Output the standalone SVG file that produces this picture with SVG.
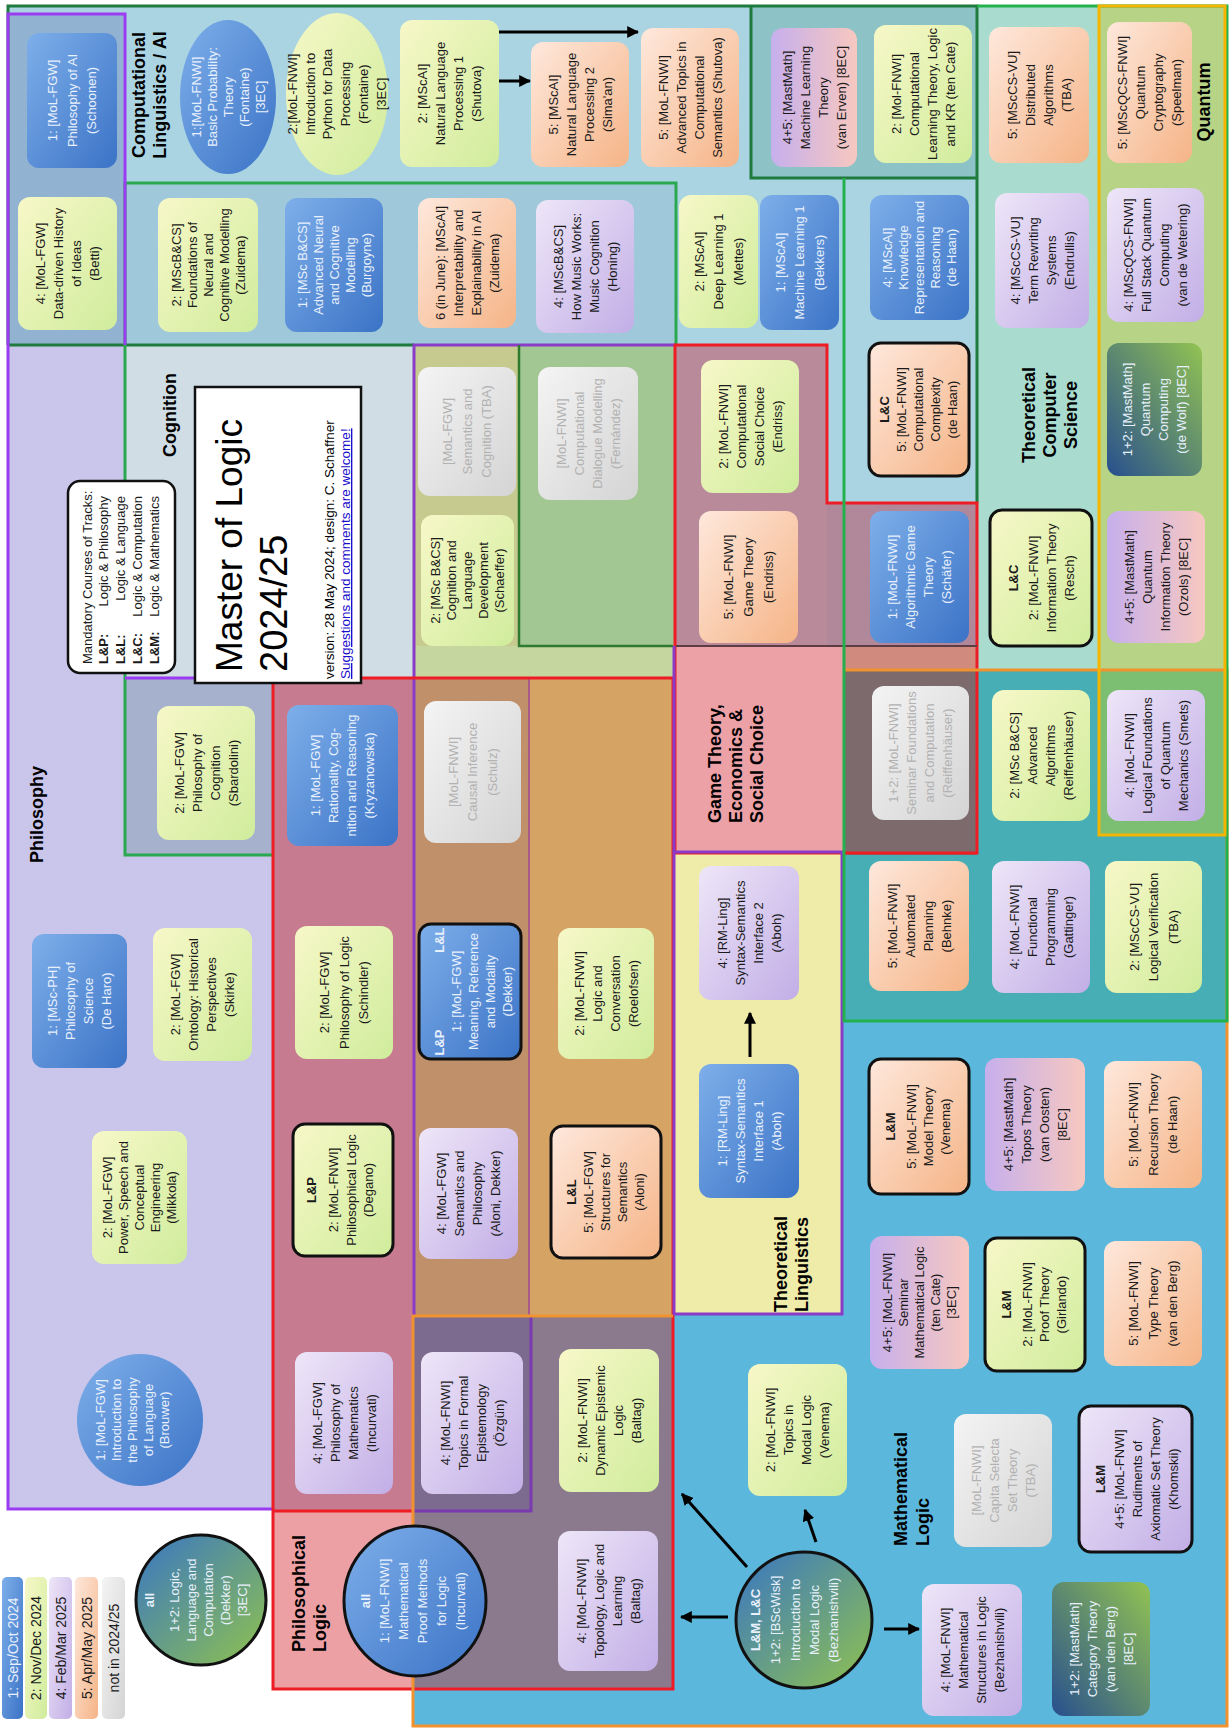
<svg xmlns="http://www.w3.org/2000/svg" width="1232" height="1730" viewBox="0 0 1232 1730">
<defs>
<linearGradient id="g1" x1="0" y1="0" x2="1" y2="1"><stop offset="0" stop-color="#7eafea"/><stop offset="1" stop-color="#3b73c6"/></linearGradient>
<linearGradient id="g2" x1="0" y1="0" x2="1" y2="1"><stop offset="0" stop-color="#f7f8c8"/><stop offset="1" stop-color="#d0ec9c"/></linearGradient>
<linearGradient id="g4" x1="0" y1="0" x2="1" y2="1"><stop offset="0" stop-color="#eee6f8"/><stop offset="1" stop-color="#c2aee6"/></linearGradient>
<linearGradient id="g5" x1="0" y1="0" x2="1" y2="1"><stop offset="0" stop-color="#fee8dc"/><stop offset="1" stop-color="#f5b487"/></linearGradient>
<linearGradient id="g0" x1="0" y1="0" x2="1" y2="1"><stop offset="0" stop-color="#f4f4f4"/><stop offset="1" stop-color="#d4d4d4"/></linearGradient>
<linearGradient id="g45" x1="0" y1="0" x2="1" y2="0"><stop offset="0" stop-color="#c6afec"/><stop offset="1" stop-color="#f7c8c0"/></linearGradient>
<linearGradient id="g12" x1="0" y1="1" x2="1" y2="0"><stop offset="0" stop-color="#284f8e"/><stop offset="1" stop-color="#92c352"/></linearGradient>
<linearGradient id="g12c" x1="0" y1="0" x2="1" y2="1"><stop offset="0" stop-color="#3876c4"/><stop offset="1" stop-color="#90c24e"/></linearGradient>
<marker id="ah" viewBox="0 0 10 10" refX="9" refY="5" markerWidth="4" markerHeight="4" orient="auto"><path d="M0,0 L10,5 L0,10 z" fill="#000"/></marker>
</defs>
<style>
.t{font-family:"Liberation Sans",Arial,sans-serif;font-size:13px;text-anchor:middle;fill:#1a1a1a}
.w{fill:#e8f0fc}
.gy{fill:#b2b2b2}
.b{font-weight:bold}
.lb{font-family:"Liberation Sans",Arial,sans-serif;font-size:18px;font-weight:bold;fill:#000}
.n1{fill:url(#g1)}.n2{fill:url(#g2)}.n4{fill:url(#g4)}.n5{fill:url(#g5)}.n0{fill:url(#g0)}.n45{fill:url(#g45)}.n12{fill:url(#g12)}.nc{fill:url(#g12c)}
.m{stroke:#111;stroke-width:3}
.ar{fill:none;stroke:#000;stroke-width:3;marker-end:url(#ah)}
</style>
<rect width="1232" height="1730" fill="#fff"/>
<g id="regions">
<rect x="8" y="6" width="969" height="339" fill="#aad4e2"/>
<rect x="827" y="345" width="150" height="158" fill="#aad4e2"/>
<rect x="8" y="14" width="117" height="331" fill="#92b2d2"/>
<rect x="125" y="183" width="551" height="162" fill="#9fc8da"/>
<rect x="751" y="6" width="226" height="172" fill="#8dc3c6"/>
<rect x="977" y="6" width="122" height="664" fill="#a9dccf"/>
<rect x="1099" y="6" width="126" height="664" fill="#b6d386"/>
<rect x="8" y="345" width="117" height="1164" fill="#c9c5eb"/>
<rect x="125" y="855" width="148" height="654" fill="#c9c5eb"/>
<rect x="125" y="345" width="289" height="333" fill="#d0dde5"/>
<rect x="125" y="678" width="148" height="177" fill="#a5b1cd"/>
<rect x="414" y="345" width="105" height="301" fill="#c7ca8f"/>
<rect x="519" y="345" width="155" height="301" fill="#a2c792"/>
<rect x="414" y="646" width="260" height="32" fill="#c5d79e"/>
<rect x="273" y="678" width="141" height="833" fill="#c77b91"/>
<rect x="414" y="678" width="115" height="638" fill="#c0906a"/>
<rect x="529" y="678" width="145" height="638" fill="#d5a464"/>
<rect x="273" y="1511" width="140" height="178" fill="#eca0a4"/>
<rect x="413" y="1316" width="260" height="373" fill="#8b798d"/>
<rect x="413" y="1316" width="118" height="195" fill="#7d6b8f"/>
<rect x="676" y="345" width="151" height="301" fill="#b88a9a"/>
<rect x="827" y="503" width="150" height="143" fill="#b1879a"/>
<rect x="676" y="646" width="168" height="209" fill="#eca1a7"/>
<rect x="844" y="646" width="133" height="24" fill="#d08a7e"/>
<rect x="844" y="670" width="133" height="185" fill="#7c6a6d"/>
<rect x="977" y="670" width="250" height="351" fill="#48aeb5"/>
<rect x="844" y="855" width="133" height="166" fill="#48aeb5"/>
<rect x="1099" y="670" width="126" height="165" fill="#7cbf73"/>
<rect x="674" y="852" width="168" height="462" fill="#efeba9"/>
<rect x="842" y="1021" width="385" height="705" fill="#5bb7dc"/>
<rect x="674" y="1314" width="168" height="412" fill="#5bb7dc"/>
<rect x="413" y="1689" width="261" height="37" fill="#5bb7dc"/>
</g>
<g id="borders" fill="none" stroke-width="3">
<polyline points="8,345 8,6 977,6 977,503" stroke="#1f7a3e"/>
<line x1="8" y1="345" x2="414" y2="345" stroke="#1f7a3e"/>
<polyline points="751,6 751,178 977,178" stroke="#1f7a3e"/>
<polyline points="676,345 676,183 125,183 125,855 273,855" stroke="#2aa84f"/>
<polyline points="125,345 125,14 8,14 8,1509 273,1509" stroke="#9b3cf2"/>
<line x1="125" y1="678" x2="273" y2="678" stroke="#9b3cf2"/>
<polyline points="414,1316 414,345 676,345" stroke="#8a3cc8"/>
<polyline points="519,345 519,646 673,646" stroke="#2e7a2e" stroke-width="2.5"/>
<line x1="529" y1="678" x2="529" y2="1316" stroke="#a85a8a" stroke-width="2"/>
<rect x="273" y="678" width="400" height="1011" stroke="#ee1c24"/>
<line x1="273" y1="1511" x2="413" y2="1511" stroke="#ee1c24"/>
<polyline points="675,853 675,345 827,345 827,503 977,503 977,853 675,853" stroke="#ee1c24"/>
<line x1="676" y1="646" x2="977" y2="646" stroke="#5e3c44" stroke-width="2"/>
<line x1="674" y1="646" x2="674" y2="852" stroke="#8a3cc8"/>
<rect x="674" y="852" width="168" height="462" stroke="#8a3cc8"/>
<polyline points="413,1511 531,1511 531,1316" stroke="#7a3ab0"/>
<polyline points="844,670 1227,670 1227,1726 413,1726 413,1316 673,1316" stroke="#f0922e"/>
<polyline points="977,6 1227,6 1227,1021 844,1021 844,178" stroke="#22b14c"/>
<rect x="1099" y="6" width="126" height="829" stroke="#f4b400"/>
</g>
<g id="labels">
<text class="lb" transform="translate(0,95) rotate(-90)" text-anchor="middle"><tspan x="0" y="145">Computational</tspan><tspan x="0" y="166">Linguistics / AI</tspan></text>
<text class="lb" transform="translate(176,415) rotate(-90)" text-anchor="middle">Cognition</text>
<text class="lb" transform="translate(43,863) rotate(-90)">Philosophy</text>
<text class="lb" transform="translate(721,823) rotate(-90)"><tspan x="0" y="0">Game Theory,</tspan><tspan x="0" y="21">Economics &amp;</tspan><tspan x="0" y="42">Social Choice</tspan></text>
<text class="lb" transform="translate(787,1312) rotate(-90)"><tspan x="0" y="0">Theoretical</tspan><tspan x="0" y="21">Linguistics</tspan></text>
<text class="lb" transform="translate(1035,415) rotate(-90)" text-anchor="middle"><tspan x="0" y="0">Theoretical</tspan><tspan x="0" y="21">Computer</tspan><tspan x="0" y="42">Science</tspan></text>
<text class="lb" transform="translate(1210,102) rotate(-90)" text-anchor="middle">Quantum</text>
<text class="lb" transform="translate(305,1652) rotate(-90)"><tspan x="0" y="0">Philosophical</tspan><tspan x="0" y="21">Logic</tspan></text>
<text class="lb" transform="translate(907,1546) rotate(-90)"><tspan x="0" y="0">Mathematical</tspan><tspan x="0" y="22">Logic</tspan></text>
</g>
<g id="tracks-legend">
<rect x="68" y="481" width="107" height="192" rx="12" fill="#fff" stroke="#111" stroke-width="2.5"/>
<text class="t" style="text-anchor:start" transform="translate(92,664) rotate(-90)">Mandatory  Courses of Tracks:</text>
<text class="t b" style="text-anchor:start" transform="translate(108,664) rotate(-90)">L&amp;P:</text>
<text class="t" style="text-anchor:end" transform="translate(108,496) rotate(-90)">Logic &amp; Philosophy</text>
<text class="t b" style="text-anchor:start" transform="translate(125,664) rotate(-90)">L&amp;L:</text>
<text class="t" style="text-anchor:end" transform="translate(125,496) rotate(-90)">Logic &amp; Language</text>
<text class="t b" style="text-anchor:start" transform="translate(142,664) rotate(-90)">L&amp;C:</text>
<text class="t" style="text-anchor:end" transform="translate(142,496) rotate(-90)">Logic &amp; Computation</text>
<text class="t b" style="text-anchor:start" transform="translate(159,664) rotate(-90)">L&amp;M:</text>
<text class="t" style="text-anchor:end" transform="translate(159,496) rotate(-90)">Logic &amp; Mathematics</text>
</g>
<g id="title">
<rect x="195" y="387" width="166" height="296" fill="#fff" stroke="#111" stroke-width="2.5"/>
<text transform="translate(242,672) rotate(-90)" style="font-family:'Liberation Sans',Arial,sans-serif;font-size:37px;fill:#000">Master of Logic</text>
<text transform="translate(287,672) rotate(-90)" style="font-family:'Liberation Sans',Arial,sans-serif;font-size:38px;fill:#000">2024/25</text>
<text transform="translate(334,679) rotate(-90)" style="font-family:'Liberation Sans',Arial,sans-serif;font-size:13.5px;fill:#000">version: 28 May 2024; design: C. Schaffner</text>
<text transform="translate(350,679) rotate(-90)" style="font-family:'Liberation Sans',Arial,sans-serif;font-size:13.5px;fill:#1a0dcc;text-decoration:underline">Suggestions and comments are welcome!</text>
</g>
<g id="legend">
<g id="legend-1"><rect class="n1" x="2" y="1577" width="21" height="142" rx="5"/><text class="t w" style="font-size:14px" transform="translate(12.5,1648) rotate(-90)" y="5">1: Sep/Oct 2024</text></g>
<g id="legend-2"><rect class="n2" x="25" y="1577" width="22" height="142" rx="5"/><text class="t" style="font-size:14px" transform="translate(36,1648) rotate(-90)" y="5">2: Nov/Dec 2024</text></g>
<g id="legend-4"><rect class="n4" x="49" y="1577" width="23" height="142" rx="5"/><text class="t" style="font-size:14px" transform="translate(60.5,1648) rotate(-90)" y="5">4: Feb/Mar 2025</text></g>
<g id="legend-5"><rect class="n5" x="75" y="1577" width="23" height="142" rx="5"/><text class="t" style="font-size:14px" transform="translate(86.5,1648) rotate(-90)" y="5">5: Apr/May 2025</text></g>
<g id="legend-0"><rect class="n0" x="102" y="1577" width="23" height="142" rx="5"/><text class="t" style="font-size:14px" transform="translate(113.5,1648) rotate(-90)" y="5">not in 2024/25</text></g>
</g>
<g id="nodes">
<g id="n-phil-ai"><rect class="n1" x="27" y="33" width="90" height="135" rx="12"/><text class="t w" transform="translate(72,100.5) rotate(-90)"><tspan x="0" y="-15">1: [MoL-FGW]</tspan><tspan x="0" y="4.5">Philosophy of AI</tspan><tspan x="0" y="24">(Schoonen)</tspan></text></g>
<g id="n-history-ideas"><rect class="n2" x="18" y="197" width="99" height="133" rx="12"/><text class="t" transform="translate(67.5,263.5) rotate(-90)"><tspan x="0" y="-22.5">4: [MoL-FGW]</tspan><tspan x="0" y="-4.5">Data-driven History</tspan><tspan x="0" y="13.5">of Ideas</tspan><tspan x="0" y="31.5">(Betti)</tspan></text></g>
<g id="n-phil-science"><rect class="n1" x="32" y="934" width="95" height="134" rx="12"/><text class="t w" transform="translate(79.5,1001) rotate(-90)"><tspan x="0" y="-22.5">1: [MSc-PH]</tspan><tspan x="0" y="-4.5">Philosophy of</tspan><tspan x="0" y="13.5">Science</tspan><tspan x="0" y="31.5">(De Haro)</tspan></text></g>
<g id="n-power-speech"><rect class="n2" x="92" y="1131" width="95" height="133" rx="12"/><text class="t" transform="translate(139.5,1197.5) rotate(-90)"><tspan x="0" y="-27.5">2: [MoL-FGW]</tspan><tspan x="0" y="-11.5">Power, Speech and</tspan><tspan x="0" y="4.5">Conceptual</tspan><tspan x="0" y="20.5">Engineering</tspan><tspan x="0" y="36.5">(Mikkola)</tspan></text></g>
<g id="n-intro-phil-lang"><ellipse class="n1" cx="140" cy="1420" rx="63" ry="66"/><text class="t w" transform="translate(140,1420) rotate(-90)"><tspan x="0" y="-35">1: [MoL-FGW]</tspan><tspan x="0" y="-19">Introduction to</tspan><tspan x="0" y="-3">the Philosophy</tspan><tspan x="0" y="13">of Language</tspan><tspan x="0" y="29">(Brouwer)</tspan></text></g>
<g id="n-foundations-neural"><rect class="n2" x="158" y="198" width="100" height="134" rx="12"/><text class="t" transform="translate(208,265) rotate(-90)"><tspan x="0" y="-27.5">2: [MScB&amp;CS]</tspan><tspan x="0" y="-11.5">Foundations of</tspan><tspan x="0" y="4.5">Neural and</tspan><tspan x="0" y="20.5">Cognitive Modelling</tspan><tspan x="0" y="36.5">(Zuidema)</tspan></text></g>
<g id="n-basic-prob"><ellipse class="n1" cx="228" cy="97" rx="48" ry="77"/><text class="t w" transform="translate(228,97) rotate(-90)"><tspan x="0" y="-27.5">1:[MoL-FNWI]</tspan><tspan x="0" y="-11.5">Basic Probability:</tspan><tspan x="0" y="4.5">Theory</tspan><tspan x="0" y="20.5">(Fontaine)</tspan><tspan x="0" y="36.5">[3EC]</tspan></text></g>
<g id="n-phil-cognition"><rect class="n2" x="157" y="706" width="98" height="134" rx="12"/><text class="t" transform="translate(206,773) rotate(-90)"><tspan x="0" y="-22.5">2: [MoL-FGW]</tspan><tspan x="0" y="-4.5">Philosophy of</tspan><tspan x="0" y="13.5">Cognition</tspan><tspan x="0" y="31.5">(Sbardolini)</tspan></text></g>
<g id="n-ontology"><rect class="n2" x="153" y="928" width="99" height="133" rx="12"/><text class="t" transform="translate(202.5,994.5) rotate(-90)"><tspan x="0" y="-22.5">2: [MoL-FGW]</tspan><tspan x="0" y="-4.5">Ontology: Historical</tspan><tspan x="0" y="13.5">Perspectives</tspan><tspan x="0" y="31.5">(Skirke)</tspan></text></g>
<g id="n-llc"><circle class="nc m" cx="201" cy="1600" r="65"/><text class="t w" transform="translate(201,1600) rotate(-90)"><tspan class="b" x="0" y="-47">all</tspan><tspan x="0" y="-22">1+2: Logic,</tspan><tspan x="0" y="-5">Language and</tspan><tspan x="0" y="12">Computation</tspan><tspan x="0" y="29">(Dekker)</tspan><tspan x="0" y="46">[3EC]</tspan></text></g>
<g id="n-python"><ellipse class="n2" cx="337" cy="94" rx="51" ry="81"/><text class="t" transform="translate(337,94) rotate(-90)"><tspan x="0" y="-40">2:[MoL-FNWI]</tspan><tspan x="0" y="-22">Introduction to</tspan><tspan x="0" y="-5">Python for Data</tspan><tspan x="0" y="13">Processing</tspan><tspan x="0" y="31">(Fontaine)</tspan><tspan x="0" y="49">[3EC]</tspan></text></g>
<g id="n-adv-neural"><rect class="n1" x="285" y="198" width="98" height="134" rx="12"/><text class="t w" transform="translate(334,265) rotate(-90)"><tspan x="0" y="-27.5">1: [MSc B&amp;CS]</tspan><tspan x="0" y="-11.5">Advanced Neural</tspan><tspan x="0" y="4.5">and Cognitive</tspan><tspan x="0" y="20.5">Modelling</tspan><tspan x="0" y="36.5">(Burgoyne)</tspan></text></g>
<g id="n-rationality"><rect class="n1" x="287" y="705" width="111" height="141" rx="12"/><text class="t w" transform="translate(342.5,775.5) rotate(-90)"><tspan x="0" y="-22.5">1: [MoL-FGW]</tspan><tspan x="0" y="-4.5">Rationality, Cog-</tspan><tspan x="0" y="13.5">nition and Reasoning</tspan><tspan x="0" y="31.5">(Kryzanowska)</tspan></text></g>
<g id="n-phil-logic"><rect class="n2" x="295" y="926" width="98" height="133" rx="12"/><text class="t" transform="translate(344,992.5) rotate(-90)"><tspan x="0" y="-15">2: [MoL-FGW]</tspan><tspan x="0" y="4.5">Philosophy of Logic</tspan><tspan x="0" y="24">(Schindler)</tspan></text></g>
<g id="n-philosophical-logic"><rect class="n2 m" x="293" y="1124" width="100" height="132" rx="12"/><text class="t" transform="translate(343,1190) rotate(-90)"><tspan class="b" x="0" y="-27">L&amp;P</tspan><tspan x="0" y="-5">2: [MoL-FNWI]</tspan><tspan x="0" y="13">Philosophical Logic</tspan><tspan x="0" y="30">(Degano)</tspan></text></g>
<g id="n-phil-math"><rect class="n4" x="295" y="1352" width="98" height="142" rx="12"/><text class="t" transform="translate(344,1423) rotate(-90)"><tspan x="0" y="-22.5">4: [MoL-FGW]</tspan><tspan x="0" y="-4.5">Philosophy of</tspan><tspan x="0" y="13.5">Mathematics</tspan><tspan x="0" y="31.5">(Incurvati)</tspan></text></g>
<g id="n-proof-methods"><ellipse class="n1 m" cx="415" cy="1601" rx="71" ry="75"/><text class="t w" transform="translate(415,1601) rotate(-90)"><tspan class="b" x="0" y="-45">all</tspan><tspan x="0" y="-26">1: [MoL-FNWI]</tspan><tspan x="0" y="-7">Mathematical</tspan><tspan x="0" y="12">Proof Methods</tspan><tspan x="0" y="31">for Logic</tspan><tspan x="0" y="50">(Incurvati)</tspan></text></g>
<g id="n-nlp1"><rect class="n2" x="400" y="20" width="99" height="147" rx="12"/><text class="t" transform="translate(449.5,93.5) rotate(-90)"><tspan x="0" y="-22.5">2: [MScAI]</tspan><tspan x="0" y="-4.5">Natural Language</tspan><tspan x="0" y="13.5">Processing 1</tspan><tspan x="0" y="31.5">(Shutova)</tspan></text></g>
<g id="n-nlp2"><rect class="n5" x="531" y="42" width="98" height="125" rx="12"/><text class="t" transform="translate(580,104.5) rotate(-90)"><tspan x="0" y="-22.5">5: [MScAI]</tspan><tspan x="0" y="-4.5">Natural Language</tspan><tspan x="0" y="13.5">Processing 2</tspan><tspan x="0" y="31.5">(Sima'an)</tspan></text></g>
<g id="n-adv-comp-sem"><rect class="n5" x="641" y="28" width="98" height="139" rx="12"/><text class="t" transform="translate(690,97.5) rotate(-90)"><tspan x="0" y="-22.5">5: [MoL-FNWI]</tspan><tspan x="0" y="-4.5">Advanced Topics in</tspan><tspan x="0" y="13.5">Computational</tspan><tspan x="0" y="31.5">Semantics (Shutova)</tspan></text></g>
<g id="n-interpretability"><rect class="n5" x="418" y="198" width="98" height="130" rx="12"/><text class="t" transform="translate(467,263) rotate(-90)"><tspan x="0" y="-22.5">6 (in June): [MScAI]</tspan><tspan x="0" y="-4.5">Interpretability and</tspan><tspan x="0" y="13.5">Explainability in AI</tspan><tspan x="0" y="31.5">(Zuidema)</tspan></text></g>
<g id="n-music"><rect class="n4" x="536" y="200" width="98" height="133" rx="12"/><text class="t" transform="translate(585,266.5) rotate(-90)"><tspan x="0" y="-22.5">4: [MScB&amp;CS]</tspan><tspan x="0" y="-4.5">How Music Works:</tspan><tspan x="0" y="13.5">Music Cognition</tspan><tspan x="0" y="31.5">(Honing)</tspan></text></g>
<g id="n-sem-cog"><rect class="n0" x="418" y="367" width="98" height="129" rx="12"/><text class="t gy" transform="translate(467,431.5) rotate(-90)"><tspan x="0" y="-15">[MoL-FGW]</tspan><tspan x="0" y="4.5">Semantics and</tspan><tspan x="0" y="24">Cognition (TBA)</tspan></text></g>
<g id="n-dialogue"><rect class="n0" x="538" y="367" width="100" height="133" rx="12"/><text class="t gy" transform="translate(588,433.5) rotate(-90)"><tspan x="0" y="-22.5">[MoL-FNWI]</tspan><tspan x="0" y="-4.5">Computational</tspan><tspan x="0" y="13.5">Dialogue Modelling</tspan><tspan x="0" y="31.5">(Fernández)</tspan></text></g>
<g id="n-cog-lang-dev"><rect class="n2" x="421" y="515" width="93" height="131" rx="12"/><text class="t" transform="translate(467.5,580.5) rotate(-90)"><tspan x="0" y="-27.5">2: [MSc B&amp;CS]</tspan><tspan x="0" y="-11.5">Cognition and</tspan><tspan x="0" y="4.5">Language</tspan><tspan x="0" y="20.5">Development</tspan><tspan x="0" y="36.5">(Schaeffer)</tspan></text></g>
<g id="n-causal"><rect class="n0" x="424" y="701" width="97" height="142" rx="12"/><text class="t gy" transform="translate(472.5,772) rotate(-90)"><tspan x="0" y="-15">[MoL-FNWI]</tspan><tspan x="0" y="4.5">Causal Inference</tspan><tspan x="0" y="24">(Schulz)</tspan></text></g>
<g id="n-meaning-ref"><rect class="n1 m" x="419" y="924" width="102" height="135" rx="12"/><text class="t w b" style="text-anchor:start" transform="translate(470,991.5) rotate(-90)" x="-64" y="-26">L&amp;P</text><text class="t w b" style="text-anchor:end" transform="translate(470,991.5) rotate(-90)" x="64" y="-26">L&amp;L</text><text class="t w" transform="translate(470,991.5) rotate(-90)"><tspan x="0" y="-9">1: [MoL-FGW]</tspan><tspan x="0" y="8">Meaning, Reference</tspan><tspan x="0" y="25">and Modality</tspan><tspan x="0" y="42">(Dekker)</tspan></text></g>
<g id="n-sem-phil"><rect class="n4" x="419" y="1128" width="99" height="131" rx="12"/><text class="t" transform="translate(468.5,1193.5) rotate(-90)"><tspan x="0" y="-22.5">4: [MoL-FGW]</tspan><tspan x="0" y="-4.5">Semantics and</tspan><tspan x="0" y="13.5">Philosophy</tspan><tspan x="0" y="31.5">(Aloni, Dekker)</tspan></text></g>
<g id="n-logic-conv"><rect class="n2" x="558" y="928" width="96" height="131" rx="12"/><text class="t" transform="translate(606,993.5) rotate(-90)"><tspan x="0" y="-22.5">2: [MoL-FNWI]</tspan><tspan x="0" y="-4.5">Logic and</tspan><tspan x="0" y="13.5">Conversation</tspan><tspan x="0" y="31.5">(Roelofsen)</tspan></text></g>
<g id="n-structures-sem"><rect class="n5 m" x="551" y="1126" width="110" height="132" rx="12"/><text class="t" transform="translate(606,1192) rotate(-90)"><tspan class="b" x="0" y="-30">L&amp;L</tspan><tspan x="0" y="-13">5: [MoL-FGW]</tspan><tspan x="0" y="4">Structures for</tspan><tspan x="0" y="21">Semantics</tspan><tspan x="0" y="38">(Aloni)</tspan></text></g>
<g id="n-formal-epist"><rect class="n4" x="421" y="1352" width="102" height="142" rx="12"/><text class="t" transform="translate(472,1423) rotate(-90)"><tspan x="0" y="-22.5">4: [MoL-FNWI]</tspan><tspan x="0" y="-4.5">Topics in Formal</tspan><tspan x="0" y="13.5">Epistemology</tspan><tspan x="0" y="31.5">(Özgün)</tspan></text></g>
<g id="n-del"><rect class="n2" x="559" y="1349" width="100" height="143" rx="12"/><text class="t" transform="translate(609,1420.5) rotate(-90)"><tspan x="0" y="-22.5">2: [MoL-FNWI]</tspan><tspan x="0" y="-4.5">Dynamic Epistemic</tspan><tspan x="0" y="13.5">Logic</tspan><tspan x="0" y="31.5">(Baltag)</tspan></text></g>
<g id="n-topology"><rect class="n4" x="558" y="1531" width="100" height="140" rx="12"/><text class="t" transform="translate(608,1601) rotate(-90)"><tspan x="0" y="-22.5">4: [MoL-FNWI]</tspan><tspan x="0" y="-4.5">Topology, Logic and</tspan><tspan x="0" y="13.5">Learning</tspan><tspan x="0" y="31.5">(Baltag)</tspan></text></g>
<g id="n-ml-theory"><rect class="n45" x="771" y="28" width="86" height="139" rx="12"/><text class="t" transform="translate(814,97.5) rotate(-90)"><tspan x="0" y="-22.5">4+5: [MastMath]</tspan><tspan x="0" y="-4.5">Machine Learning</tspan><tspan x="0" y="13.5">Theory</tspan><tspan x="0" y="31.5">(van Erven) [8EC]</tspan></text></g>
<g id="n-dl1"><rect class="n2" x="679" y="195" width="79" height="133" rx="12"/><text class="t" transform="translate(718.5,261.5) rotate(-90)"><tspan x="0" y="-15">2: [MScAI]</tspan><tspan x="0" y="4.5">Deep Learning 1</tspan><tspan x="0" y="24">(Mettes)</tspan></text></g>
<g id="n-ml1"><rect class="n1" x="760" y="195" width="79" height="135" rx="12"/><text class="t w" transform="translate(799.5,262.5) rotate(-90)"><tspan x="0" y="-15">1: [MScAI]</tspan><tspan x="0" y="4.5">Machine Learning 1</tspan><tspan x="0" y="24">(Bekkers)</tspan></text></g>
<g id="n-comsoc"><rect class="n2" x="701" y="360" width="98" height="133" rx="12"/><text class="t" transform="translate(750,426.5) rotate(-90)"><tspan x="0" y="-22.5">2: [MoL-FNWI]</tspan><tspan x="0" y="-4.5">Computational</tspan><tspan x="0" y="13.5">Social Choice</tspan><tspan x="0" y="31.5">(Endriss)</tspan></text></g>
<g id="n-game-theory"><rect class="n5" x="699" y="511" width="99" height="132" rx="12"/><text class="t" transform="translate(748.5,577) rotate(-90)"><tspan x="0" y="-15.5">5: [MoL-FNWI]</tspan><tspan x="0" y="4.5">Game Theory</tspan><tspan x="0" y="24.5">(Endriss)</tspan></text></g>
<g id="n-syn-sem-2"><rect class="n4" x="699" y="866" width="100" height="134" rx="12"/><text class="t" transform="translate(749,933) rotate(-90)"><tspan x="0" y="-22.5">4: [RM-Ling]</tspan><tspan x="0" y="-4.5">Syntax-Semantics</tspan><tspan x="0" y="13.5">Interface 2</tspan><tspan x="0" y="31.5">(Aboh)</tspan></text></g>
<g id="n-syn-sem-1"><rect class="n1" x="699" y="1064" width="100" height="134" rx="12"/><text class="t w" transform="translate(749,1131) rotate(-90)"><tspan x="0" y="-22.5">1: [RM-Ling]</tspan><tspan x="0" y="-4.5">Syntax-Semantics</tspan><tspan x="0" y="13.5">Interface 1</tspan><tspan x="0" y="31.5">(Aboh)</tspan></text></g>
<g id="n-modal-topics"><rect class="n2" x="748" y="1364" width="99" height="132" rx="12"/><text class="t" transform="translate(797.5,1430) rotate(-90)"><tspan x="0" y="-22.5">2: [MoL-FNWI]</tspan><tspan x="0" y="-4.5">Topics in</tspan><tspan x="0" y="13.5">Modal Logic</tspan><tspan x="0" y="31.5">(Venema)</tspan></text></g>
<g id="n-intro-modal"><circle class="nc m" cx="804" cy="1620" r="68"/><text class="t w" transform="translate(804,1620) rotate(-90)"><tspan class="b" x="0" y="-44">L&amp;M, L&amp;C</tspan><tspan x="0" y="-24">1+2:  [BScWisk]</tspan><tspan x="0" y="-4">Introduction to</tspan><tspan x="0" y="15">Modal Logic</tspan><tspan x="0" y="34">(Bezhanishvili)</tspan></text></g>
<g id="n-comp-learning"><rect class="n2" x="874" y="25" width="98" height="138" rx="12"/><text class="t" transform="translate(923,94) rotate(-90)"><tspan x="0" y="-22.5">2: [Mol-FNWI]</tspan><tspan x="0" y="-4.5">Computational</tspan><tspan x="0" y="13.5">Learning Theory, Logic</tspan><tspan x="0" y="31.5">and KR (ten Cate)</tspan></text></g>
<g id="n-kr"><rect class="n1" x="870" y="195" width="99" height="125" rx="12"/><text class="t w" transform="translate(919.5,257.5) rotate(-90)"><tspan x="0" y="-27.5">4: [MScAI]</tspan><tspan x="0" y="-11.5">Knowledge</tspan><tspan x="0" y="4.5">Representation and</tspan><tspan x="0" y="20.5">Reasoning</tspan><tspan x="0" y="36.5">(de Haan)</tspan></text></g>
<g id="n-complexity"><rect class="n5 m" x="869" y="343" width="100" height="133" rx="12"/><text class="t" transform="translate(919,409.5) rotate(-90)"><tspan class="b" x="0" y="-30">L&amp;C</tspan><tspan x="0" y="-13">5: [MoL-FNWI]</tspan><tspan x="0" y="4">Computational</tspan><tspan x="0" y="21">Complexity</tspan><tspan x="0" y="38">(de Haan)</tspan></text></g>
<g id="n-agt"><rect class="n1" x="870" y="511" width="99" height="132" rx="12"/><text class="t w" transform="translate(919.5,577) rotate(-90)"><tspan x="0" y="-22.5">1: [MoL-FNWI]</tspan><tspan x="0" y="-4.5">Algorithmic Game</tspan><tspan x="0" y="13.5">Theory</tspan><tspan x="0" y="31.5">(Schäfer)</tspan></text></g>
<g id="n-seminar-found"><rect class="n0" x="872" y="686" width="97" height="134" rx="12"/><text class="t gy" transform="translate(920.5,753) rotate(-90)"><tspan x="0" y="-22.5">1+2: [MoL-FNWI]</tspan><tspan x="0" y="-4.5">Seminar Foundations</tspan><tspan x="0" y="13.5">and Computation</tspan><tspan x="0" y="31.5">(Reiffenhäuser)</tspan></text></g>
<g id="n-planning"><rect class="n5" x="869" y="861" width="100" height="130" rx="12"/><text class="t" transform="translate(919,926) rotate(-90)"><tspan x="0" y="-22.5">5: [MoL-FNWI]</tspan><tspan x="0" y="-4.5">Automated</tspan><tspan x="0" y="13.5">Planning</tspan><tspan x="0" y="31.5">(Behnke)</tspan></text></g>
<g id="n-model-theory"><rect class="n5 m" x="869" y="1059" width="100" height="135" rx="12"/><text class="t" transform="translate(919,1126.5) rotate(-90)"><tspan class="b" x="0" y="-24">L&amp;M</tspan><tspan x="0" y="-3">5: [MoL-FNWI]</tspan><tspan x="0" y="14">Model Theory</tspan><tspan x="0" y="31">(Venema)</tspan></text></g>
<g id="n-seminar-ml"><rect class="n45" x="870" y="1236" width="99" height="133" rx="12"/><text class="t" transform="translate(919.5,1302.5) rotate(-90)"><tspan x="0" y="-27.5">4+5: [MoL-FNWI]</tspan><tspan x="0" y="-11.5">Seminar</tspan><tspan x="0" y="4.5">Mathematical Logic</tspan><tspan x="0" y="20.5">(ten Cate)</tspan><tspan x="0" y="36.5">[3EC]</tspan></text></g>
<g id="n-math-struct"><rect class="n4" x="922" y="1584" width="100" height="132" rx="12"/><text class="t" transform="translate(972,1650) rotate(-90)"><tspan x="0" y="-22.5">4: [MoL-FNWI]</tspan><tspan x="0" y="-4.5">Mathematical</tspan><tspan x="0" y="13.5">Structures in Logic</tspan><tspan x="0" y="31.5">(Bezhanishvili)</tspan></text></g>
<g id="n-distributed"><rect class="n5" x="989" y="27" width="100" height="136" rx="12"/><text class="t" transform="translate(1039,95) rotate(-90)"><tspan x="0" y="-22.5">5: [MScCS-VU]</tspan><tspan x="0" y="-4.5">Distributed</tspan><tspan x="0" y="13.5">Algorithms</tspan><tspan x="0" y="31.5">(TBA)</tspan></text></g>
<g id="n-term-rewriting"><rect class="n4" x="995" y="193" width="94" height="135" rx="12"/><text class="t" transform="translate(1042,260.5) rotate(-90)"><tspan x="0" y="-22.5">4: [MScCS-VU]</tspan><tspan x="0" y="-4.5">Term Rewriting</tspan><tspan x="0" y="13.5">Systems</tspan><tspan x="0" y="31.5">(Endrullis)</tspan></text></g>
<g id="n-info-theory"><rect class="n2 m" x="990" y="510" width="102" height="136" rx="12"/><text class="t" transform="translate(1041,578) rotate(-90)"><tspan class="b" x="0" y="-23">L&amp;C</tspan><tspan x="0" y="-3">2: [MoL-FNWI]</tspan><tspan x="0" y="15">Information Theory</tspan><tspan x="0" y="33">(Resch)</tspan></text></g>
<g id="n-adv-alg"><rect class="n2" x="992" y="690" width="98" height="131" rx="12"/><text class="t" transform="translate(1041,755.5) rotate(-90)"><tspan x="0" y="-22.5">2: [MSc B&amp;CS]</tspan><tspan x="0" y="-4.5">Advanced</tspan><tspan x="0" y="13.5">Algorithms</tspan><tspan x="0" y="31.5">(Reiffenhäuser)</tspan></text></g>
<g id="n-func-prog"><rect class="n4" x="992" y="861" width="98" height="132" rx="12"/><text class="t" transform="translate(1041,927) rotate(-90)"><tspan x="0" y="-22.5">4: [MoL-FNWI]</tspan><tspan x="0" y="-4.5">Functional</tspan><tspan x="0" y="13.5">Programming</tspan><tspan x="0" y="31.5">(Gattinger)</tspan></text></g>
<g id="n-topos"><rect class="n45" x="985" y="1058" width="100" height="133" rx="12"/><text class="t" transform="translate(1035,1124.5) rotate(-90)"><tspan x="0" y="-22.5">4+5: [MastMath]</tspan><tspan x="0" y="-4.5">Topos Theory</tspan><tspan x="0" y="13.5">(van Oosten)</tspan><tspan x="0" y="31.5">[8EC]</tspan></text></g>
<g id="n-proof-theory"><rect class="n2 m" x="985" y="1238" width="100" height="133" rx="12"/><text class="t" transform="translate(1035,1304.5) rotate(-90)"><tspan class="b" x="0" y="-24">L&amp;M</tspan><tspan x="0" y="-3">2: [MoL-FNWI]</tspan><tspan x="0" y="14">Proof Theory</tspan><tspan x="0" y="31">(Girlando)</tspan></text></g>
<g id="n-capita"><rect class="n0" x="954" y="1414" width="98" height="133" rx="12"/><text class="t gy" transform="translate(1003,1480.5) rotate(-90)"><tspan x="0" y="-22.5">[MoL-FNWI]</tspan><tspan x="0" y="-4.5">Capita Selecta</tspan><tspan x="0" y="13.5">Set Theory</tspan><tspan x="0" y="31.5">(TBA)</tspan></text></g>
<g id="n-category"><rect class="n12" x="1052" y="1582" width="98" height="134" rx="12"/><text class="t w" transform="translate(1101,1649) rotate(-90)"><tspan x="0" y="-22.5">1+2: [MastMath]</tspan><tspan x="0" y="-4.5">Category Theory</tspan><tspan x="0" y="13.5">(van den Berg)</tspan><tspan x="0" y="31.5">[8EC]</tspan></text></g>
<g id="n-q-crypto"><rect class="n5" x="1107" y="22" width="85" height="141" rx="12"/><text class="t" transform="translate(1149.5,92.5) rotate(-90)"><tspan x="0" y="-22.5">5: [MScQCS-FNWI]</tspan><tspan x="0" y="-4.5">Quantum</tspan><tspan x="0" y="13.5">Cryptography</tspan><tspan x="0" y="31.5">(Speelman)</tspan></text></g>
<g id="n-full-stack"><rect class="n4" x="1107" y="188" width="97" height="134" rx="12"/><text class="t" transform="translate(1155.5,255) rotate(-90)"><tspan x="0" y="-22.5">4: [MScQCS-FNWI]</tspan><tspan x="0" y="-4.5">Full Stack Quantum</tspan><tspan x="0" y="13.5">Computing</tspan><tspan x="0" y="31.5">(van de Wetering)</tspan></text></g>
<g id="n-q-computing"><rect class="n12" x="1107" y="343" width="95" height="133" rx="12"/><text class="t w" transform="translate(1154.5,409.5) rotate(-90)"><tspan x="0" y="-22.5">1+2: [MastMath]</tspan><tspan x="0" y="-4.5">Quantum</tspan><tspan x="0" y="13.5">Computing</tspan><tspan x="0" y="31.5">(de Wolf) [8EC]</tspan></text></g>
<g id="n-q-info"><rect class="n45" x="1107" y="511" width="98" height="132" rx="12"/><text class="t" transform="translate(1156,577) rotate(-90)"><tspan x="0" y="-22.5">4+5: [MastMath]</tspan><tspan x="0" y="-4.5">Quantum</tspan><tspan x="0" y="13.5">Information Theory</tspan><tspan x="0" y="31.5">(Ozols) [8EC]</tspan></text></g>
<g id="n-log-found-qm"><rect class="n4" x="1107" y="690" width="98" height="131" rx="12"/><text class="t" transform="translate(1156,755.5) rotate(-90)"><tspan x="0" y="-22.5">4: [MoL-FNWI]</tspan><tspan x="0" y="-4.5">Logical Foundations</tspan><tspan x="0" y="13.5">of Quantum</tspan><tspan x="0" y="31.5">Mechanics (Smets)</tspan></text></g>
<g id="n-log-verif"><rect class="n2" x="1105" y="861" width="97" height="132" rx="12"/><text class="t" transform="translate(1153.5,927) rotate(-90)"><tspan x="0" y="-15">2: [MScCS-VU]</tspan><tspan x="0" y="4.5">Logical Verification</tspan><tspan x="0" y="24">(TBA)</tspan></text></g>
<g id="n-recursion"><rect class="n5" x="1104" y="1061" width="98" height="127" rx="12"/><text class="t" transform="translate(1153,1124.5) rotate(-90)"><tspan x="0" y="-15">5: [MoL-FNWI]</tspan><tspan x="0" y="4.5">Recursion Theory</tspan><tspan x="0" y="24">(de Haan)</tspan></text></g>
<g id="n-type-theory"><rect class="n5" x="1104" y="1241" width="98" height="125" rx="12"/><text class="t" transform="translate(1153,1303.5) rotate(-90)"><tspan x="0" y="-15">5: [MoL-FNWI]</tspan><tspan x="0" y="4.5">Type Theory</tspan><tspan x="0" y="24">(van den Berg)</tspan></text></g>
<g id="n-rudiments"><rect class="n4 m" x="1079" y="1406" width="113" height="146" rx="12"/><text class="t" transform="translate(1135.5,1479) rotate(-90)"><tspan class="b" x="0" y="-31">L&amp;M</tspan><tspan x="0" y="-12">4+5: [MoL-FNWI]</tspan><tspan x="0" y="6">Rudiments of</tspan><tspan x="0" y="24">Axiomatic Set Theory</tspan><tspan x="0" y="42">(Khomskii)</tspan></text></g>
</g>
<g id="connectors">
<path class="ar" d="M499,32 L638,32"/>
<path class="ar" d="M499,81 L530,81"/>
<path class="ar" d="M750,1057 L750,1013"/>
<path class="ar" d="M747,1567 L682,1494"/>
<path class="ar" d="M816,1542 L805,1510"/>
<path class="ar" d="M728,1617 L681,1617"/>
<path class="ar" d="M884,1629 L919,1629"/>
</g>
</svg>
